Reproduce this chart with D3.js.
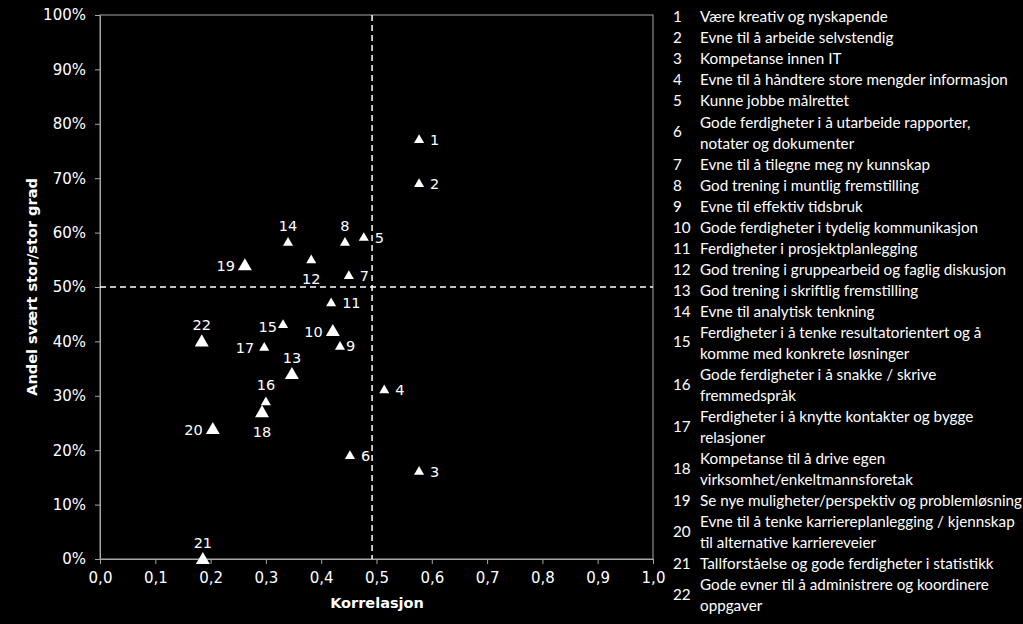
<!DOCTYPE html>
<html><head><meta charset="utf-8">
<script src="https://cdn.jsdelivr.net/npm/d3@7"></script>
<style>
html,body{margin:0;padding:0;background:#000;}
svg{display:block;}
</style></head>
<body>
<svg id="chart" width="1023" height="624"></svg>
<script>
// ---- data ----
const ids = [1,2,3,4,5,6,7,8,9,10,11,12,13,14,15,16,17,18,19,20,21,22];
const korrelasjon = [0.577,0.577,0.577,0.514,0.477,0.452,0.450,0.443,0.434,0.421,0.418,0.382,0.347,0.340,0.331,0.300,0.297,0.293,0.262,0.204,0.186,0.184];
const andel = [0.772,0.691,0.162,0.312,0.592,0.191,0.522,0.583,0.392,0.419,0.472,0.551,0.340,0.583,0.432,0.290,0.390,0.270,0.540,0.239,0.000,0.400];
const largeMarker = [false,false,false,false,false,false,false,false,false,true,false,false,true,false,false,false,false,true,true,true,true,true];
const labelSide = ['r','r','r','r','r','r','r','a','rc','l','r','b','a','a','lc','a','l','b','l','l','a','a'];
const xTicks = [0,0.1,0.2,0.3,0.4,0.5,0.6,0.7,0.8,0.9,1.0];
const yTicks = [0,0.1,0.2,0.3,0.4,0.5,0.6,0.7,0.8,0.9,1.0];
const xRef = 0.492, yRef = 0.5;
const xTitle = "Korrelasjon";
const yTitle = "Andel svært stor/stor grad";
const legendItems = [
  ["Være kreativ og nyskapende"],
  ["Evne til å arbeide selvstendig"],
  ["Kompetanse innen IT"],
  ["Evne til å håndtere store mengder informasjon"],
  ["Kunne jobbe målrettet"],
  ["Gode ferdigheter i å utarbeide rapporter,","notater og dokumenter"],
  ["Evne til å tilegne meg ny kunnskap"],
  ["God trening i muntlig fremstilling"],
  ["Evne til effektiv tidsbruk"],
  ["Gode ferdigheter i tydelig kommunikasjon"],
  ["Ferdigheter i prosjektplanlegging"],
  ["God trening i gruppearbeid og faglig diskusjon"],
  ["God trening i skriftlig fremstilling"],
  ["Evne til analytisk tenkning"],
  ["Ferdigheter i å tenke resultatorientert og å","komme med konkrete løsninger"],
  ["Gode ferdigheter i å snakke / skrive","fremmedspråk"],
  ["Ferdigheter i å knytte kontakter og bygge","relasjoner"],
  ["Kompetanse til å drive egen","virksomhet/enkeltmannsforetak"],
  ["Se nye muligheter/perspektiv og problemløsning"],
  ["Evne til å tenke karriereplanlegging / kjennskap","til alternative karriereveier"],
  ["Tallforståelse og gode ferdigheter i statistikk"],
  ["Gode evner til å administrere og koordinere","oppgaver"]
];

// ---- layout ----
const svg = d3.select("#chart");
const W = 1023, H = 624;
svg.append("rect").attr("width",W).attr("height",H).attr("fill","#000");
const m = {left:100, top:15, right:653, bottom:559};
const x = d3.scaleLinear().domain([0,1]).range([m.left,m.right]);
const y = d3.scaleLinear().domain([0,1]).range([m.bottom,m.top]);
const axisColor = "#a6a6a6";
const tickFont = "'DejaVu Sans', Verdana, sans-serif";

// frame
svg.append("rect").attr("x",m.left).attr("y",m.top)
  .attr("width",m.right-m.left).attr("height",m.bottom-m.top)
  .attr("fill","none").attr("stroke",axisColor).attr("stroke-width",1);

const fmtX = v => d3.format(".1f")(v).replace(".",",");
const gx = svg.append("g").attr("transform",`translate(0,${m.bottom})`)
  .call(d3.axisBottom(x).tickValues(xTicks).tickFormat(fmtX).tickSizeInner(5).tickSizeOuter(0).tickPadding(8));
const gy = svg.append("g").attr("transform",`translate(${m.left},0)`)
  .call(d3.axisLeft(y).tickValues(yTicks).tickFormat(d3.format(".0%")).tickSizeInner(5).tickSizeOuter(0).tickPadding(9));
[gx,gy].forEach(g=>{
  g.select(".domain").attr("stroke",axisColor);
  g.selectAll(".tick line").attr("stroke",axisColor);
  g.selectAll(".tick text").attr("fill","#fff").style("font-family",tickFont).style("font-size","15px");
});

// reference dashed lines
svg.append("line").attr("x1",x(xRef)).attr("x2",x(xRef)).attr("y1",y(1)).attr("y2",y(0))
  .attr("stroke","#fff").attr("stroke-width",1.5).attr("stroke-dasharray","6,4");
svg.append("line").attr("x1",x(0)).attr("x2",x(1)).attr("y1",y(yRef)).attr("y2",y(yRef))
  .attr("stroke","#fff").attr("stroke-width",1.5).attr("stroke-dasharray","6,4");

// axis titles
svg.append("text").attr("x",377).attr("y",608).attr("text-anchor","middle")
  .attr("fill","#fff").style("font-family",tickFont).style("font-weight","bold").style("font-size","14.5px").text(xTitle);
svg.append("text").attr("transform",`translate(37,${y(0.5)}) rotate(-90)`).attr("text-anchor","middle")
  .attr("fill","#fff").style("font-family",tickFont).style("font-weight","bold").style("font-size","14.5px").text(yTitle);

// points
const data = ids.map((id,i)=>({id, x:korrelasjon[i], y:andel[i], big:largeMarker[i], side:labelSide[i]}));
const small = d3.symbol().type(d3.symbolTriangle).size(44);
const big = d3.symbol().type(d3.symbolTriangle).size(84);
svg.append("g").selectAll("path").data(data).join("path")
  .attr("d", d => d.big ? big() : small())
  .attr("transform", d => `translate(${x(d.x)},${y(d.y)+1})`)
  .attr("fill","#fff");

const off = {
  r:  {dx:11, dy:6, anchor:"start"},
  rc: {dx:6, dy:5, anchor:"start"},
  l:  {dx:-10, dy:6, anchor:"end"},
  lc: {dx:-6, dy:8, anchor:"end"},
  a:  {dx:0, dy:-11, anchor:"middle"},
  b:  {dx:0, dy:25, anchor:"middle"}
};
svg.append("g").selectAll("text").data(data).join("text")
  .attr("x", d => x(d.x)+off[d.side].dx)
  .attr("y", d => y(d.y)+off[d.side].dy)
  .attr("text-anchor", d => off[d.side].anchor)
  .attr("fill","#fff").style("font-family",tickFont).style("font-size","14.5px")
  .text(d => d.id);

// legend
const legFont = "Lato, 'Open Sans', sans-serif";
const lineH = 21.04, firstY = 17;
const lg = svg.append("g");
// calibrate font size so the reference line spans ~308px
const probe = lg.append("text").style("font-family",legFont).style("font-size","15px").text(legendItems[3][0]);
const w15 = probe.node().getComputedTextLength();
probe.remove();
const legSize = 15*308/w15;
let line = 0;
legendItems.forEach((lines,i)=>{
  const startLine = line;
  lines.forEach(t=>{
    lg.append("text").attr("x",700).attr("y",firstY+line*lineH).attr("dy","0.35em")
      .attr("fill","#fff").style("font-family",legFont).style("font-size",legSize+"px").text(t);
    line++;
  });
  const cy = firstY + (startLine + (lines.length-1)/2)*lineH - (lines.length>1?1:0);
  lg.append("text").attr("x",673).attr("y",cy).attr("dy","0.35em")
    .attr("fill","#fff").style("font-family",legFont).style("font-size",legSize+"px").text(ids[i]);
});
</script>
</body></html>
